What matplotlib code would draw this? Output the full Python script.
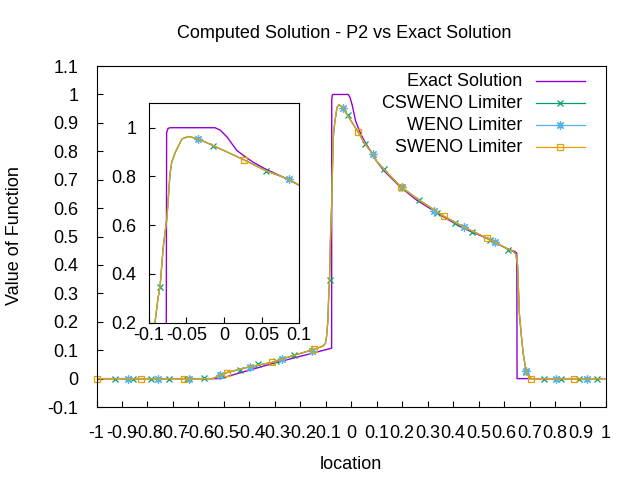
import numpy as np
import matplotlib
matplotlib.use('Agg')
import matplotlib.pyplot as plt
from matplotlib.ticker import FuncFormatter

plt.rcParams['font.family'] = ['Liberation Sans', 'DejaVu Sans']
plt.rcParams['font.size'] = 13
plt.rcParams['axes.unicode_minus'] = False

# gnuplot default colours
purpleColor = '#9400d3'
greenColor = '#009e73'
blueColor = '#56b4e9'
orangeColor = '#e69f00'

# exact solution
exact_x = [-1.0, -0.515, -0.31, -0.077, -0.0765, -0.0745, -0.072, -0.012, -0.005,
           0.004, 0.017, 0.026, 0.039, 0.055, 0.079, 0.099, 0.126, 0.192, 0.257,
           0.361, 0.440, 0.532, 0.610, 0.643, 0.650, 0.651, 1.0]
exact_y = [0.0, 0.0, 0.053, 0.107, 0.98, 0.997, 1.0, 1.0, 0.99,
           0.962, 0.907, 0.886, 0.858, 0.831, 0.797, 0.766, 0.734, 0.675, 0.628,
           0.570, 0.529, 0.494, 0.458, 0.447, 0.441, 0.0, 0.0]

# computed solution (the three limiters lie on top of each other)
num_x = [-1.0, -0.545, -0.52, -0.489, -0.397, -0.312, -0.225, -0.146, -0.11, -0.101,
         -0.097, -0.092, -0.088, -0.0853, -0.081, -0.076, -0.072, -0.0697, -0.065,
         -0.056, -0.0476, -0.034, -0.014, 0.026, 0.0556, 0.086, 0.099, 0.129, 0.195,
         0.267, 0.365, 0.443, 0.534, 0.617, 0.635, 0.646, 0.653, 0.66, 0.668, 0.675,
         0.686, 0.70, 0.71, 1.0]
num_y = [0.0, 0.0, 0.009, 0.021, 0.042, 0.057, 0.082, 0.103, 0.115, 0.125,
         0.147, 0.2, 0.3, 0.347, 0.51, 0.633, 0.81, 0.858, 0.899,
         0.954, 0.964, 0.954, 0.926, 0.869, 0.824, 0.789, 0.766, 0.736, 0.675,
         0.628, 0.571, 0.533, 0.494, 0.455, 0.448, 0.438, 0.40, 0.23, 0.15, 0.089,
         0.028, 0.003, 0.0, 0.0]

# points shown for each limiter
csweno_x = [-0.927, -0.855, -0.786, -0.714, -0.645, -0.577, -0.506, -0.437, -0.365,
            -0.295, -0.225, -0.155, -0.0853, -0.014, 0.0556, 0.129, 0.198, 0.267,
            0.337, 0.407, 0.475, 0.545, 0.617, 0.687, 0.758, 0.823, 0.894, 0.966]
csweno_y = [0.0, 0.0, 0.0, 0.0, 0.0, 0.003, 0.014, 0.03, 0.05,
            0.062, 0.082, 0.097, 0.347, 0.926, 0.824, 0.736, 0.672, 0.628,
            0.582, 0.549, 0.517, 0.488, 0.452, 0.025, 0.0, 0.0, 0.0, 0.0]
weno_x = [-0.875, -0.757, -0.636, -0.515, -0.397, -0.273, -0.155, -0.034, 0.086,
          0.198, 0.325, 0.443, 0.564, 0.686, 0.804, 0.927]
weno_y = [0.0, 0.0, 0.0, 0.014, 0.042, 0.069, 0.097, 0.954, 0.789,
          0.673, 0.591, 0.535, 0.480, 0.028, 0.0, 0.0]
sweno_x = [-0.997, -0.825, -0.655, -0.489, -0.312, -0.146, 0.026, 0.195, 0.365,
           0.534, 0.706, 0.876]
sweno_y = [0.0, 0.0, 0.0, 0.021, 0.057, 0.103, 0.869, 0.675, 0.572,
           0.494, 0.0, 0.0]

series = [
    ('CSWENO Limiter', csweno_x, csweno_y, greenColor, 'x', 4.5),
    ('WENO Limiter', weno_x, weno_y, blueColor, (8, 2, 0), 6),
    ('SWENO Limiter', sweno_x, sweno_y, orangeColor, 's', 5),
]

# '%g' labels like gnuplot, and no '-0'
fmt = FuncFormatter(lambda v, p: '%g' % (round(v, 3) + 0.0))


def draw_curves(ax, clip=True):
    ax.plot(exact_x, exact_y, color=purpleColor, lw=1.0)
    for name, mx, my, col, mk, ms in series:
        ax.plot(num_x, num_y, color=col, lw=0.9)
        ax.plot(mx, my, ls='none', marker=mk, ms=ms, mec=col, mfc='none',
                mew=0.9, clip_on=clip)


def style_axes(ax):
    ax.tick_params(direction='in', length=4, width=0.8, top=False, right=False)
    ax.xaxis.set_major_formatter(fmt)
    ax.yaxis.set_major_formatter(fmt)


fig = plt.figure(figsize=(6.4, 4.8), dpi=100)

ax = fig.add_axes([0.1508, 0.152, 0.796, 0.7104])
draw_curves(ax, clip=False)
ax.set_xlim(-1, 1)
ax.set_ylim(-0.1, 1.1)
ax.set_xticks(np.round(np.arange(-1, 1.001, 0.1), 2))
ax.set_yticks(np.round(np.arange(-0.1, 1.101, 0.1), 2))
style_axes(ax)
ax.tick_params(axis='both', pad=13)

# key in the top right corner, gnuplot style
key_names = ['Exact Solution'] + [s[0] for s in series]
key_colors = [purpleColor] + [s[3] for s in series]
key_marks = [None] + [s[4] for s in series]
key_sizes = [0] + [s[5] for s in series]
for i in range(4):
    yk = 0.956 - i * 0.0645
    ax.text(0.835, yk, key_names[i], transform=ax.transAxes, ha='right', va='center')
    ax.plot([0.8626, 0.958], [yk, yk], transform=ax.transAxes, color=key_colors[i],
            lw=1.0 if i == 0 else 0.9, clip_on=False)
    if key_marks[i] is not None:
        ax.plot([0.9104], [yk], transform=ax.transAxes, ls='none', marker=key_marks[i],
                ms=key_sizes[i], mec=key_colors[i], mfc='none', mew=0.9, clip_on=False)

# zoomed inset near the shock
axin = fig.add_axes([0.2328, 0.3277, 0.2344, 0.457])
axin.set_facecolor('white')
draw_curves(axin, clip=True)
axin.set_xlim(-0.1, 0.1)
axin.set_ylim(0.2, 1.1)
axin.set_xticks([-0.1, -0.05, 0, 0.05, 0.1])
axin.set_yticks([0.2, 0.4, 0.6, 0.8, 1.0])
style_axes(axin)
axin.tick_params(axis='x', pad=3)
axin.tick_params(axis='y', pad=9)

fig.text(344 / 640, 1 - 38.3 / 480, 'Computed Solution - P2 vs Exact Solution',
         ha='center', va='baseline')
fig.text(351 / 640, 1 - 469 / 480, 'location', ha='center', va='baseline')
fig.text(15 / 640, 1 - 236 / 480, 'Value of Function', rotation=90,
         ha='center', va='center')

fig.savefig('out.png', dpi=100)
